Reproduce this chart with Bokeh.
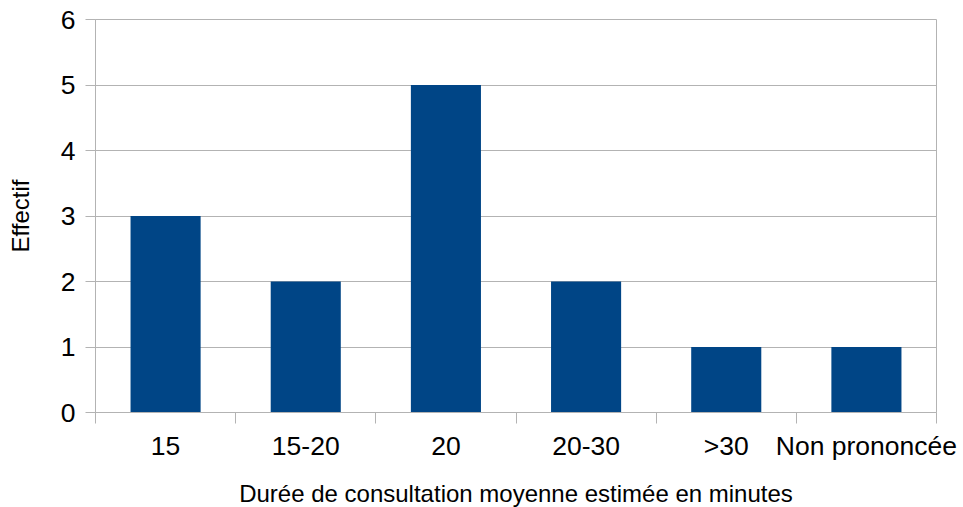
from bokeh.plotting import figure
from bokeh.models import FixedTicker, Range1d, ColumnDataSource
from bokeh.embed import file_html
from bokeh.resources import INLINE

categories = ["15", "15-20", "20", "20-30", ">30", "Non prononcée"]
effectif = [3, 2, 5, 2, 1, 1]
y_ticks = [0, 1, 2, 3, 4, 5, 6]
x_title = "Durée de consultation moyenne estimée en minutes"
y_title = "Effectif"

FONT = "Liberation Sans"
GRAY = "#b3b3b3"
BAR = "#004586"

n = len(categories)
centers = [i + 0.5 for i in range(n)]
bounds = [i for i in range(n + 1)]

src = ColumnDataSource(dict(x=centers, top=effectif))

p = figure(width=962, height=509, output_backend="svg", toolbar_location=None,
           x_range=Range1d(0, n), y_range=Range1d(0, 6),
           min_border_left=95, min_border_right=26, min_border_top=19, min_border_bottom=70)

p.vbar(x="x", top="top", width=0.5, bottom=0, source=src, color=BAR, line_color=None)

p.xgrid.visible = False
p.ygrid.grid_line_color = GRAY
p.ygrid.grid_line_width = 1
p.outline_line_color = GRAY

p.xaxis.ticker = FixedTicker(ticks=centers, minor_ticks=bounds)
p.xaxis.major_label_overrides = {c: lab for c, lab in zip(centers, categories)}
p.xaxis.major_tick_line_color = None
p.xaxis.major_tick_out = 0
p.xaxis.major_tick_in = 0
p.xaxis.minor_tick_out = 11
p.xaxis.minor_tick_in = 0
p.xaxis.minor_tick_line_color = GRAY
p.xaxis.axis_line_color = GRAY
p.xaxis.major_label_standoff = 7
p.xaxis.axis_label = x_title
p.xaxis.axis_label_standoff = 16

p.yaxis.ticker = FixedTicker(ticks=y_ticks)
p.yaxis.major_tick_out = 10
p.yaxis.major_tick_in = 0
p.yaxis.minor_tick_line_color = None
p.yaxis.major_tick_line_color = GRAY
p.yaxis.axis_line_color = GRAY
p.yaxis.major_label_standoff = 10
p.yaxis.axis_label = y_title
p.yaxis.axis_label_standoff = 24

for ax in (p.xaxis, p.yaxis):
    ax.major_label_text_font = FONT
    ax.major_label_text_font_size = "26.5px"
    ax.major_label_text_color = "black"
    ax.axis_label_text_font = FONT
    ax.axis_label_text_font_size = "24px"
    ax.axis_label_text_font_style = "normal"
    ax.axis_label_text_color = "black"

p.background_fill_color = "white"
p.border_fill_color = "white"

open("out.html", "w").write(file_html(p, INLINE))
